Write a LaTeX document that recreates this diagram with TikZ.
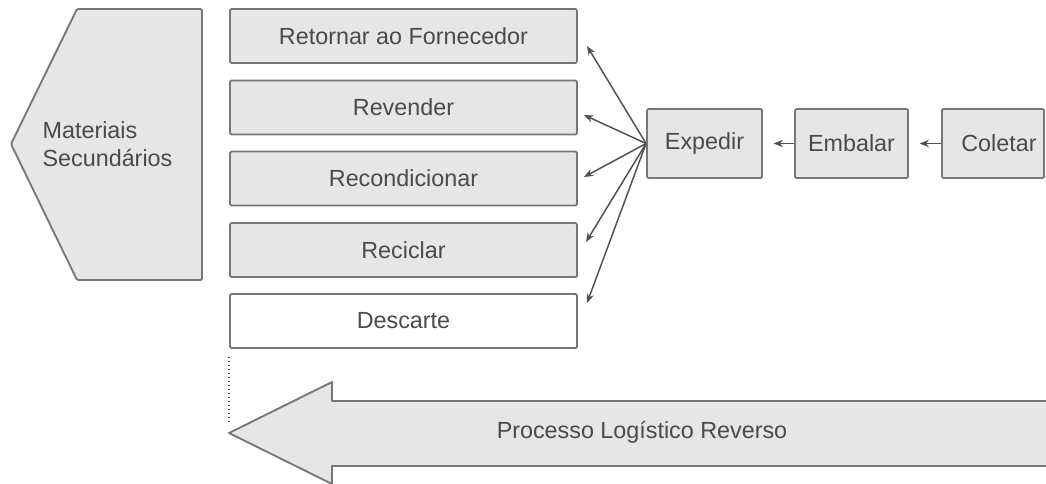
\documentclass[tikz,border=0pt]{standalone}
\usepackage{fontspec}
\setmainfont{Liberation Sans}
\usetikzlibrary{arrows.meta}
\definecolor{boxfill}{HTML}{E6E6E6}
\definecolor{boxline}{HTML}{777777}
\definecolor{txt}{HTML}{4A4A4A}
\definecolor{arr}{HTML}{505050}
\begin{document}
\begin{tikzpicture}[x=0.75pt,y=-0.75pt,
  every node/.style={font=\fontsize{17.5}{21}\selectfont, text=txt},
  basebox/.style={draw=boxline, line width=1.4pt, rounded corners=1pt, inner sep=0pt},
  destbox/.style={basebox, fill=boxfill, minimum width=260.25pt, minimum height=40.5pt},
  stagebox/.style={basebox, fill=boxfill, minimum height=51.75pt},
  conn/.style={draw=arr, line width=1.1pt, -{Stealth[length=7pt,width=5.5pt]}}
]
\useasboundingbox (0,0) rectangle (1046,483);
% Left pentagon
\path[fill=boxfill, draw=boxline, line width=1.4pt, rounded corners=1pt]
  (77,9) -- (202,9) -- (202,280) -- (77,280) -- (11,144) -- cycle;
\node[align=left] (mat) at (107.5,144) {Materiais\\Secundários};
% Destination boxes
\node[destbox] (ret) at (403.5,36) {Retornar ao Fornecedor};
\node[destbox] (rev) at (403.5,107.5) {Revender};
\node[destbox] (rec) at (403.5,178.5) {Recondicionar};
\node[destbox] (rcl) at (403.5,250) {Reciclar};
\node[destbox, fill=white] (des) at (403.5,321) {Descarte};
% Stage boxes
\node[stagebox, minimum width=86.25pt] (exp) at (704.5,143.5) {Expedir};
\node[stagebox, minimum width=84.75pt] (emb) at (851.5,143.5) {Embalar};
\node[stagebox, minimum width=76.5pt] (col) at (993,143.5) {\hspace{9pt}Coletar};
% Arrow ends
\coordinate (t1) at (587,46);
\coordinate (t2) at (584,115);
\coordinate (t3) at (584,177);
\coordinate (t4) at (586,242);
\coordinate (t5) at (587,303);
\foreach \t in {t1,t2,t3,t4,t5}{
  \draw[conn] (exp.west) -- (\t);
}
\draw[conn, shorten >=8pt] (emb.west) -- (exp.east);
\draw[conn, shorten >=8pt] (col.west) -- (emb.east);
% Dotted line
\coordinate (d1) at (229,357);
\coordinate (d2) at (229,423);
\draw[arr, line width=1pt, dotted] (d1) -- (d2);
% Big arrow
\fill[boxfill] (1050,401) -- (332,401) -- (332,382) -- (229,433) -- (332,484) -- (332,466) -- (1050,466) -- cycle;
\draw[boxline, line width=1.4pt, line join=round] (1050,401) -- (332,401) -- (332,382) -- (229,433) -- (332,484) -- (332,466) -- (1050,466);
\node (proc) at (642,432) {Processo Logístico Reverso};
\end{tikzpicture}
\end{document}
